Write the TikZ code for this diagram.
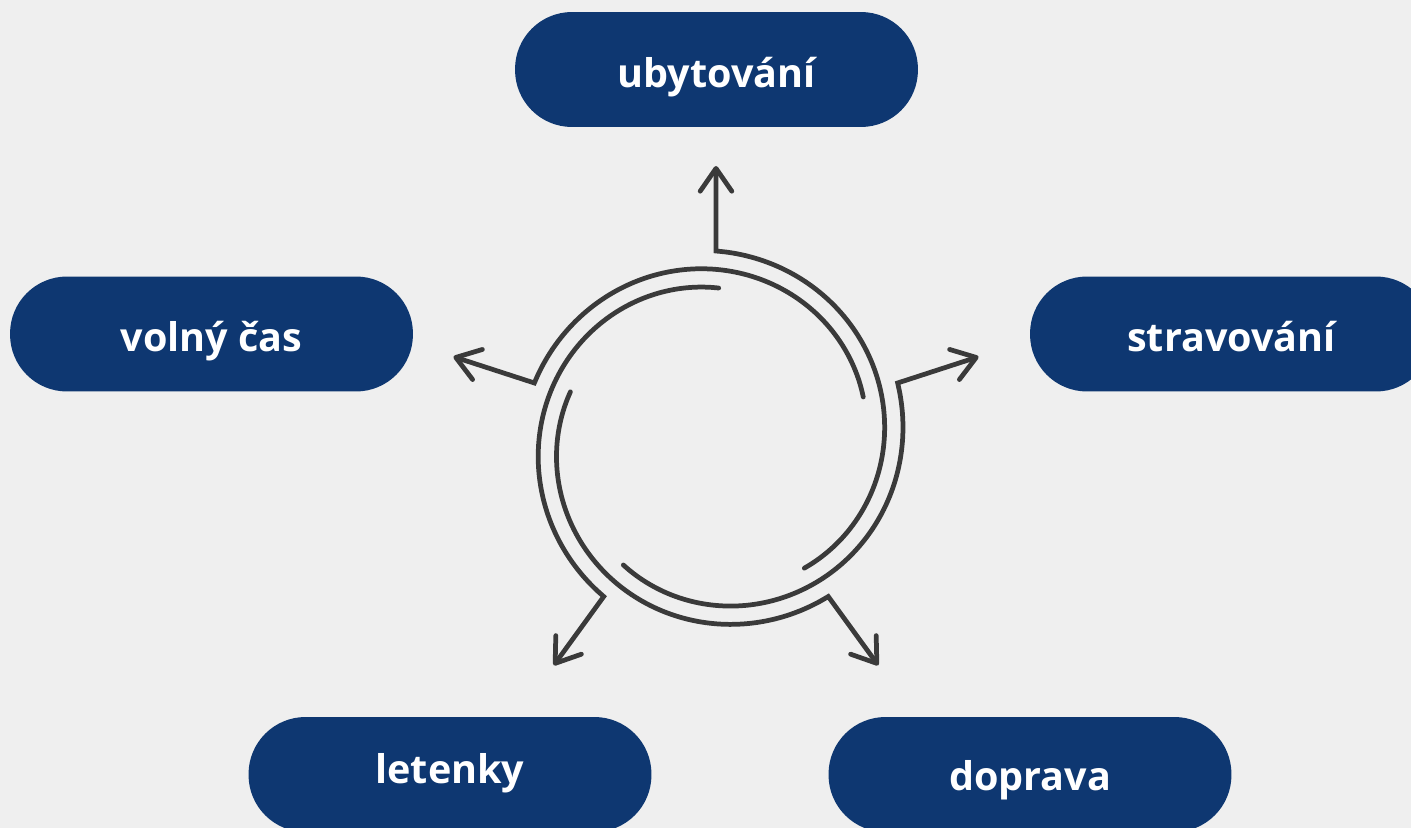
\documentclass[tikz,border=0pt]{standalone}
\usepackage{fontspec}
\setsansfont{Open Sans}
\usepackage{tikz}
\usetikzlibrary{arrows.meta}
\definecolor{navy}{HTML}{0E3771}
\definecolor{ink}{HTML}{3A3A3A}
\definecolor{paper}{HTML}{EFEFEF}
\tikzset{
  pill/.style = {fill=navy, rounded corners=1.14cm, minimum width=8.06cm,
    minimum height=2.3cm, inner sep=0pt, text=white, align=center,
    font=\sffamily\bfseries\fontsize{22.5}{27}\selectfont,
    text height=0.72cm, text depth=0cm},% pilulka
  cycarrow/.style = {draw=ink, line width=2.7pt, line cap=round,
    -{Straight Barb[length=13pt, width=18pt, round]}}% spirala se sipkou
}

\begin{document}
\begin{tikzpicture}[x=0.02cm, y=-0.02cm]
\useasboundingbox (0,0) rectangle (1411,828);
\fill[paper] (0,0) rectangle (1411,828);

\node [pill] (ubyt) at (716.5,69.5) {ubytování};
\node [pill] (volno) at (211.5,334) {volný čas};
\node [pill] (strava) at (1231.5,334) {stravování};
\node [pill, text depth=0.38cm] (let) at (450,774.5) {letenky};
\node [pill, text depth=0.1cm] (dopr) at (1030,774.5) {doprava};

\coordinate (hub) at (716,442);
% pet spiral, kazda od paty sipky po smeru hodin
\foreach \a in {90,18,-54,-126,-198}{
  \draw [cycarrow] plot [domain=\a-145:\a, samples=50, smooth]
      ({716+(154+37*(\x-\a+145)/145)*cos(\x)}, {442-(154+37*(\x-\a+145)/145)*sin(\x)})
    -- ({716+276*cos(\a)}, {442-276*sin(\a)});
}
\end{tikzpicture}
\end{document}
